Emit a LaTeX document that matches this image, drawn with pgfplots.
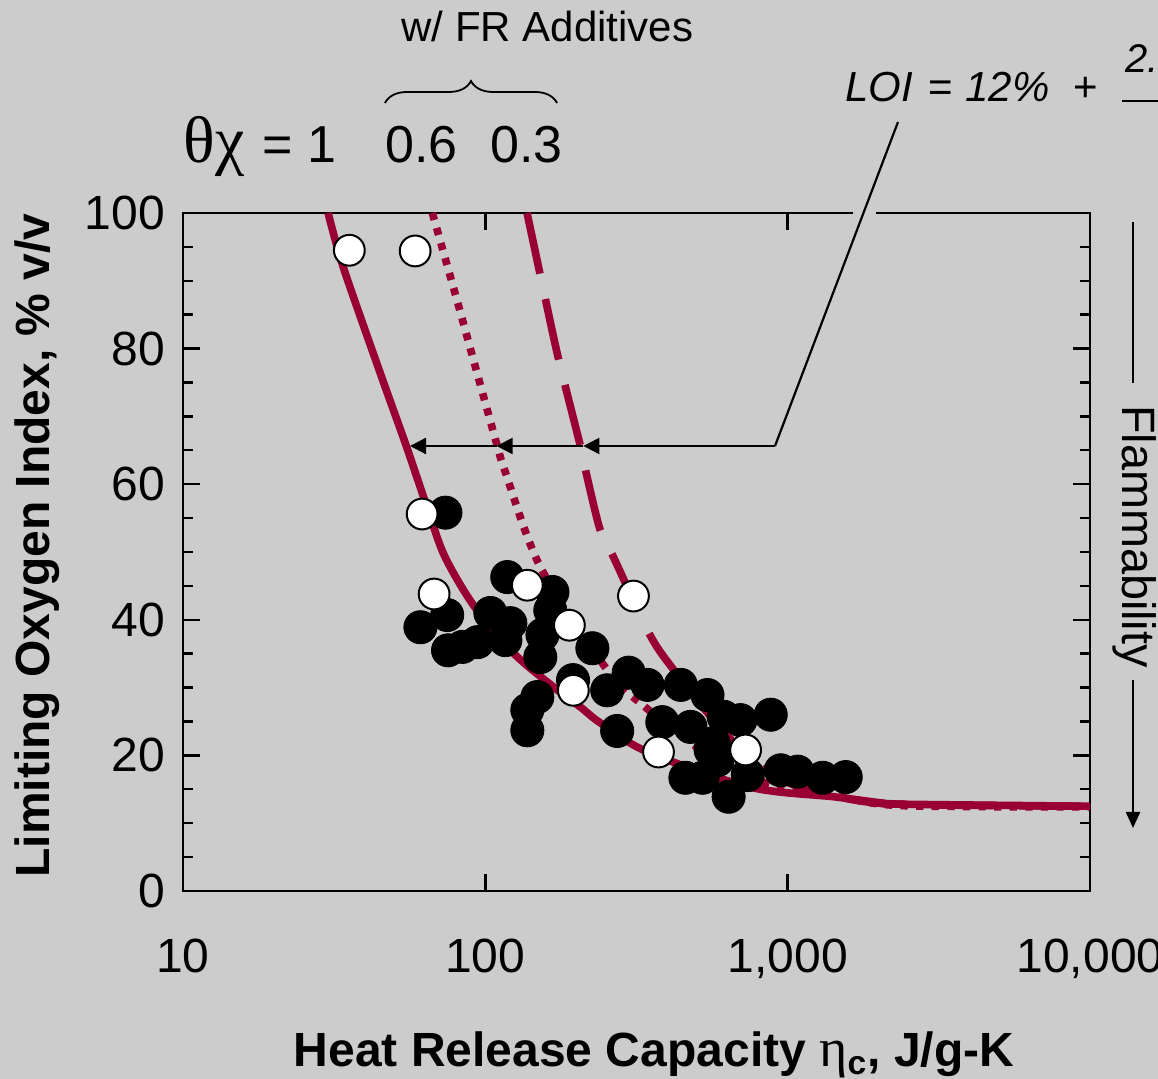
\documentclass[border=0pt]{standalone}
\usepackage{fontspec}
\setmainfont{Liberation Sans}
\newfontfamily\grk{Liberation Serif}
\usepackage{pgfplots}
\pgfplotsset{compat=1.18}
\usetikzlibrary{arrows.meta,decorations.pathreplacing}
\definecolor{bg}{RGB}{204,204,204}
\definecolor{maroon}{RGB}{153,0,51}

\pgfplotstableread{
x y
30.2 100
33.9 92.0
44.9 76.4
54.8 65.6
65.3 55.6
73.5 49.3
91.2 42.2
123.8 35.1
168 30.1
206.6 27.1
240 24.8
344 20.5
753 15.3
1419 13.9
2032 13.0
2366 12.8
10000 12.5
}\solid

\pgfplotstableread{
x y
66.8 100
81.1 86.7
93.9 76.4
109.6 65.6
116.4 61.8
152 47.8
253 32.6
326 27.7
530 20.5
860 15.8
1496 13.9
2366 12.6
10000 12.4
}\dotted

\pgfplotstableread{
x y
137.4 100
158.2 87.2
175 78.3
206.6 65.5
217 61.1
240 53.2
265 49.3
350 37.8
420 32.6
550 26.0
750 19.5
1000 16.0
1500 13.8
2366 12.8
10000 12.5
}\dashed

\pgfplotstableread{
x y
73.8 55.8
74.8 40.7
61.0 38.9
75.3 35.5
84.0 36.0
94.2 36.7
103.9 41.0
121 39.5
116.5 37.0
118.2 46.3
166.7 44.1
164 41.4
154.5 37.8
152 34.5
226 35.8
195 31.1
148.6 28.6
137.7 26.7
137.7 23.7
253 29.6
273 23.6
298 32.2
344 30.4
443 30.4
543 28.9
385 24.9
477 24.2
698 25.2
879 26.0
569 21.8
556 20.8
459 16.7
523 16.7
638 13.9
738 17.1
586 19.3
614 25.7
949 17.8
1079 17.6
1306 16.7
1556 16.8
}\blackdots

\pgfplotstableread{
x y
35.5 94.5
58.6 94.4
61.8 55.6
67.7 43.8
137.7 45.1
189.7 39.2
309 43.5
195.5 29.6
374 20.5
726 20.8
}\whitedots

\begin{document}
\begin{tikzpicture}
\path[use as bounding box] (-91.5pt,-94pt) rectangle (487.5pt,445.5pt);
\clip (-91.5pt,-94pt) rectangle (487.5pt,445.5pt);
\fill[bg] (-91.5pt,-94pt) rectangle (487.5pt,445.5pt);
\begin{axis}[
  at={(0pt,0pt)}, anchor=south west,
  scale only axis, width=453.5pt, height=339pt,
  xmode=log, log basis x=10,
  xmin=10, xmax=10000, ymin=0, ymax=100,
  xtick={10,100,1000,10000}, xticklabels={10,100,{1,000},{10,000}},
  ytick={0,20,40,60,80,100}, yticklabels={0,20,40,60,80,100},
  minor y tick num=3,
  tick align=inside, tick pos=both,
  major tick length=8.5pt, minor tick length=5pt,
  every tick/.style={black, line width=1.2pt},
  axis line style={line width=1.3pt},
  ticklabel style={font=\fontsize{24}{28}\selectfont},
  xticklabel style={yshift=-20.5pt},
  yticklabel style={xshift=-5.5pt},
]
\addplot[maroon, line width=3.8pt, smooth, dash pattern=on 31pt off 13pt] table {\dashed};
\addplot[maroon, line width=3.8pt, smooth, dash pattern=on 3.6pt off 4.2pt] table {\dotted};
\addplot[maroon, line width=3.8pt, smooth] table {\solid};
\addplot[only marks, mark=*, mark size=8.3pt, mark options={fill=black, draw=black, line width=0.4pt}] table {\blackdots};
\addplot[only marks, mark=*, mark size=7.7pt, mark options={fill=white, draw=black, line width=1pt}] table {\whitedots};
\end{axis}

% gap in top spine
\fill[bg] (335pt,336.5pt) rectangle (346.5pt,341.5pt);
% annotation line and arrows
\draw[line width=1.1pt] (357.5pt,384.5pt) -- (296pt,222.5pt);
\draw[line width=1.1pt, -{Triangle[length=8pt,width=8pt]}] (296pt,222.5pt) -- (200.2pt,222.5pt);
\draw[line width=1.1pt, -{Triangle[length=8pt,width=8pt]}] (200.2pt,222.5pt) -- (156.8pt,222.5pt);
\draw[line width=1.1pt, -{Triangle[length=8pt,width=8pt]}] (156.8pt,222.5pt) -- (113.5pt,222.5pt);

% flammability arrow
\draw[line width=1.1pt] (475pt,334.5pt) -- (475pt,254pt);
\draw[line width=1.1pt, -{Triangle[length=8pt,width=7pt]}] (475pt,105.5pt) -- (475pt,31.5pt);
\node[rotate=-90, anchor=base, inner sep=0pt, font=\fontsize{23.4}{28}\selectfont] at (469.5pt,177.25pt) {Flammability};

% axis labels
\node[anchor=base, inner sep=0pt, font=\bfseries\fontsize{24}{28}\selectfont] at (235.5pt,-88pt) {Heat Release Capacity {\mdseries\grk\fontsize{27}{30}\selectfont η}\textsubscript{c}, J/g-K};
\node[rotate=90, anchor=base, inner sep=0pt, font=\bfseries\fontsize{24}{28}\selectfont] at (-66.5pt,172.75pt) {Limiting Oxygen Index, \% v/v};

% top annotations
\node[anchor=base, inner sep=0pt, font=\fontsize{21}{25}\selectfont] at (182.25pt,424.5pt) {w/ FR Additives};
\draw[line width=0.9pt, decorate, decoration={brace, amplitude=11pt}] (101pt,394pt) -- (187pt,394pt);
\node[anchor=base west, inner sep=0pt, font=\grk\fontsize{33}{36}\selectfont] at (0pt,364pt) {θχ};
\node[anchor=base west, inner sep=0pt, font=\fontsize{26}{30}\selectfont] at (39.5pt,364pt) {= 1};
\node[anchor=base west, inner sep=0pt, font=\fontsize{26}{30}\selectfont] at (101pt,364pt) {0.6};
\node[anchor=base west, inner sep=0pt, font=\fontsize{26}{30}\selectfont] at (153.5pt,364pt) {0.3};

% formula
\node[anchor=base west, inner sep=0pt, font=\itshape\fontsize{21}{25}\selectfont] at (331pt,394.5pt) {LOI};
\node[anchor=base west, inner sep=0pt, font=\fontsize{21}{25}\selectfont] at (372.5pt,394.5pt) {=};
\node[anchor=base west, inner sep=0pt, font=\itshape\fontsize{21}{25}\selectfont] at (391pt,394.5pt) {12\%};
\node[anchor=base west, inner sep=0pt, font=\fontsize{21}{25}\selectfont] at (445pt,394.5pt) {+};
\draw[line width=0.9pt] (469.5pt,395pt) -- (495pt,395pt);
\node[anchor=base west, inner sep=0pt, font=\itshape\fontsize{20}{24}\selectfont] at (471pt,409pt) {2.};
\end{tikzpicture}
\end{document}
